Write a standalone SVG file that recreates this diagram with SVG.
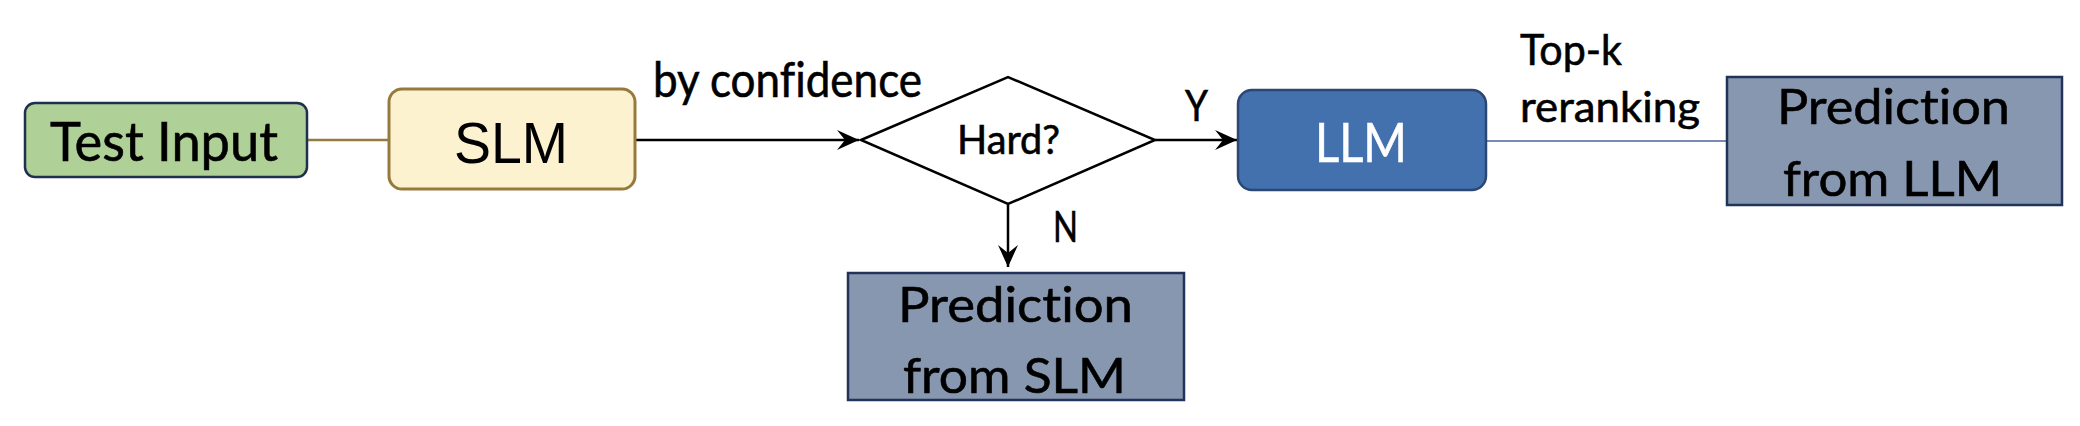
<svg xmlns="http://www.w3.org/2000/svg" width="2080" height="426" viewBox="0 0 2080 426">
<defs>
<style>
.t{font-family:Lato,"Open Sans","Liberation Sans",sans-serif;fill:#000;font-variant-ligatures:none;stroke:#000;stroke-width:0.6}
.a{font-family:"Liberation Sans",Arial,sans-serif;fill:#000}
.pred{fill:#8897b0;stroke:#22335a;stroke-width:2.5}
.edge{stroke:#000;stroke-width:2.5;fill:none}
</style>
<marker id="arr" viewBox="-24 -12 26 24" refX="0" refY="0" markerWidth="26" markerHeight="24" markerUnits="userSpaceOnUse" orient="auto">
<path d="M0,0 L-22,-10 L-14,0 L-22,10 Z" fill="#000"/>
</marker>
</defs>
<rect width="2080" height="426" fill="#fff"/>
<g id="connectors">
<line x1="307" y1="140" x2="389" y2="140" stroke="#947b40" stroke-width="2.5"/>
<line x1="635" y1="140" x2="859" y2="140" class="edge" marker-end="url(#arr)"/>
<line x1="1155" y1="140" x2="1237" y2="140" class="edge" marker-end="url(#arr)"/>
<line x1="1008" y1="204" x2="1008" y2="267" class="edge" marker-end="url(#arr)"/>
<line x1="1486" y1="141" x2="1727" y2="141" stroke="#4a659c" stroke-width="1.6"/>
<text class="t" x="653" y="97" font-size="48" textLength="269" lengthAdjust="spacingAndGlyphs">by confidence</text>
<text class="t" x="1185" y="121" font-size="43" textLength="23" lengthAdjust="spacingAndGlyphs">Y</text>
<text class="t" x="1053" y="242" font-size="42" textLength="25" lengthAdjust="spacingAndGlyphs">N</text>
<text class="t" x="1520" y="65" font-size="43" textLength="102" lengthAdjust="spacingAndGlyphs">Top-k</text>
<text class="t" x="1520" y="122" font-size="43" textLength="180" lengthAdjust="spacingAndGlyphs">reranking</text>
</g>
<g id="test-input">
<rect x="25" y="103" width="282" height="74" rx="10" fill="#afd096" stroke="#1f2f4f" stroke-width="2.5"/>
<text class="t" x="50" y="161" font-size="54" textLength="228" lengthAdjust="spacingAndGlyphs">Test Input</text>
</g>
<g id="slm">
<rect x="389" y="89" width="246" height="100" rx="13" fill="#fdf2d0" stroke="#957a3c" stroke-width="3"/>
<text class="a" x="454" y="163" font-size="58" textLength="114" lengthAdjust="spacingAndGlyphs">SLM</text>
</g>
<g id="hard">
<polygon points="861,140 1008,77 1155,140 1008,204" fill="#fff" stroke="#000" stroke-width="2.5"/>
<text class="t" x="957" y="154" font-size="40" textLength="103" lengthAdjust="spacingAndGlyphs">Hard?</text>
</g>
<g id="llm">
<rect x="1238" y="90" width="248" height="100" rx="14" fill="#4271ae" stroke="#2c4774" stroke-width="2.5"/>
<text class="t" x="1315" y="162" font-size="55" textLength="92" lengthAdjust="spacingAndGlyphs" style="fill:#fff;stroke:#fff">LLM</text>
</g>
<g id="pred-llm">
<rect x="1727" y="77" width="335" height="128" class="pred"/>
<text class="t" x="1777" y="124" font-size="49" textLength="233" lengthAdjust="spacingAndGlyphs">Prediction</text>
<text class="t" x="1783" y="196" font-size="49" textLength="219" lengthAdjust="spacingAndGlyphs">from LLM</text>
</g>
<g id="pred-slm">
<rect x="848" y="273" width="336" height="127" class="pred"/>
<text class="t" x="898" y="322" font-size="49" textLength="235" lengthAdjust="spacingAndGlyphs">Prediction</text>
<text class="t" x="903" y="393" font-size="49" textLength="223" lengthAdjust="spacingAndGlyphs">from SLM</text>
</g>
</svg>
